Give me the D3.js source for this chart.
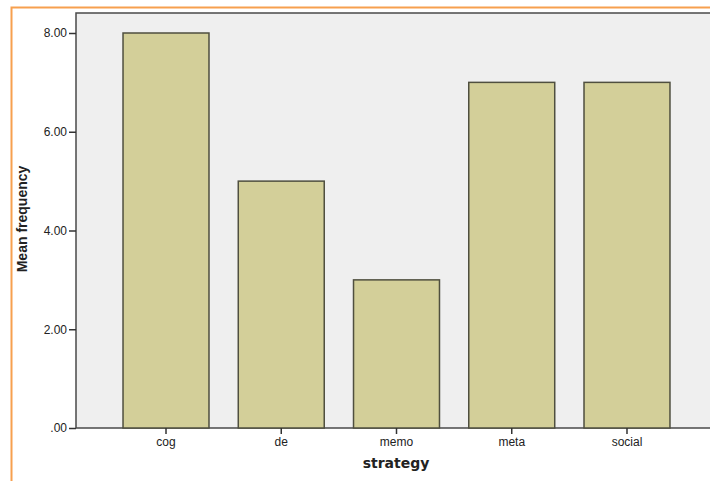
<!DOCTYPE html>
<html>
<head>
<meta charset="utf-8">
<script src="https://cdn.jsdelivr.net/npm/d3@7"></script>
<style>
  body { margin: 0; background: #fff; }
  svg { display: block; font-family: "Liberation Sans", Arial, sans-serif; }
</style>
</head>
<body>
<div id="chart"></div>
<script>
// chart data
var categories = ["cog", "de", "memo", "meta", "social"];
var meanFreq = [8, 5, 3, 7, 7];
var yTicks = [0, 2, 4, 6, 8];
var yTickLabels = [".00", "2.00", "4.00", "6.00", "8.00"];

var width = 710, height = 481;
// plot box (right edge runs off the picture like in the SPSS export)
var plotLeft = 76, plotTop = 13, plotBottom = 428, plotRight = 717;

var svg = d3.select("#chart")
  .append("svg")
  .attr("width", width)
  .attr("height", height);

// orange outer frame
svg.append("path")
  .attr("d", "M11.5," + height + " V7.5 H" + width)
  .attr("fill", "none")
  .attr("stroke", "#f7a04e")
  .attr("stroke-width", 2);

var x = d3.scaleBand()
  .domain(categories)
  .range([plotLeft, plotRight])
  .paddingInner(0.254)
  .paddingOuter(0.408);

var y = d3.scaleLinear()
  .domain([0, 8])
  .range([plotBottom, 33]);

// plot background
svg.append("rect")
  .attr("x", plotLeft)
  .attr("y", plotTop)
  .attr("width", plotRight - plotLeft)
  .attr("height", plotBottom - plotTop)
  .attr("fill", "#efefef")
  .attr("stroke", "#4a4a4a")
  .attr("stroke-width", 1.5);

// bars
svg.selectAll(".bar")
  .data(meanFreq)
  .join("rect")
  .attr("class", "bar")
  .attr("x", function(d, i) { return x(categories[i]); })
  .attr("y", function(d) { return y(d); })
  .attr("width", x.bandwidth())
  .attr("height", function(d) { return y(0) - y(d); })
  .attr("fill", "#d3cf99")
  .attr("stroke", "#4f4f3f")
  .attr("stroke-width", 1.5);

// y axis
var yAxis = d3.axisLeft(y)
  .tickValues(yTicks)
  .tickFormat(function(d, i) { return yTickLabels[i]; })
  .tickSize(7)
  .tickSizeOuter(0)
  .tickPadding(2);

var gy = svg.append("g")
  .attr("transform", "translate(" + plotLeft + ",0)")
  .call(yAxis);
gy.select(".domain").remove();
gy.selectAll(".tick line").attr("stroke", "#333").attr("stroke-width", 1.5);
gy.selectAll(".tick text").attr("font-size", "12px").attr("fill", "#222")
  .attr("font-family", "Liberation Sans, Arial, sans-serif");

// x axis
var xAxis = d3.axisBottom(x).tickSize(6).tickSizeOuter(0).tickPadding(3);
var gx = svg.append("g")
  .attr("transform", "translate(0," + plotBottom + ")")
  .call(xAxis);
gx.select(".domain").remove();
gx.selectAll(".tick line").attr("stroke", "#333").attr("stroke-width", 1.5);
gx.selectAll(".tick text").attr("font-size", "12px").attr("fill", "#222")
  .attr("font-family", "Liberation Sans, Arial, sans-serif");

// axis titles
svg.append("text")
  .attr("x", 396)
  .attr("y", 468)
  .attr("text-anchor", "middle")
  .attr("font-family", "DejaVu Sans, sans-serif")
  .attr("font-weight", "bold")
  .attr("font-size", "14px")
  .attr("fill", "#222")
  .text("strategy");

svg.append("text")
  .attr("transform", "translate(27,219) rotate(-90)")
  .attr("text-anchor", "middle")
  .attr("font-family", "Liberation Sans, Arial, sans-serif")
  .attr("font-weight", "bold")
  .attr("font-size", "14px")
  .attr("fill", "#222")
  .text("Mean frequency");
</script>
</body>
</html>
